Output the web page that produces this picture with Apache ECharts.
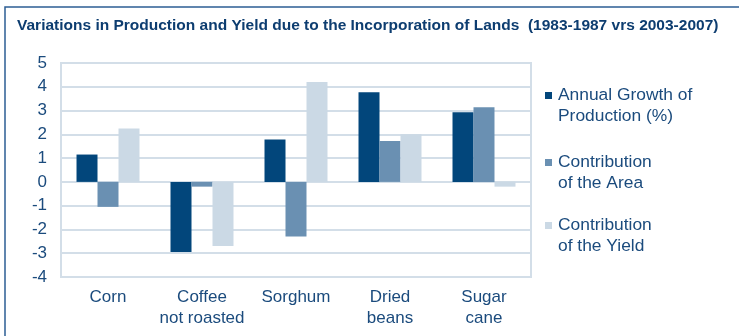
<!DOCTYPE html>
<html>
<head>
<meta charset="utf-8">
<script src="https://cdn.jsdelivr.net/npm/echarts@6/dist/echarts.min.js"></script>
<style>
  html, body { margin: 0; padding: 0; background: #fff; }
  #chart { width: 739px; height: 336px; }
</style>
</head>
<body>
<div id="chart"></div>
<script>
// Crops and their production/yield variation (%)
const categories = ['Corn', 'Coffee\nnot roasted', 'Sorghum', 'Dried\nbeans', 'Sugar\ncane'];
const seriesNames = ['Annual Growth of\nProduction (%)', 'Contribution\nof the Area', 'Contribution\nof the Yield'];
const annualGrowth = [1.15, -2.95, 1.78, 3.77, 2.93];
const areaContribution = [-1.05, -0.2, -2.3, 1.72, 3.14];
const yieldContribution = [2.25, -2.7, 4.2, 2.0, -0.2];
const seriesValues = [annualGrowth, areaContribution, yieldContribution];
const colors = ['#02467b', '#6a90b2', '#cbd9e5'];
const titleText = 'Variations in Production and Yield due to the Incorporation of Lands  (1983-1987 vrs 2003-2007)';

const textColor = '#1b4b7d';
const gridColor = '#d3dee8';
const font = 'Liberation Sans, Arial, sans-serif';

const chart = echarts.init(document.getElementById('chart'));

// Legend drawn as graphic items: square marker beside the first line of a two-line label
const legendGraphics = seriesNames.map((name, i) => {
  const y = [96, 163, 226][i];
  return {
    type: 'group',
    left: 545,
    top: y - 11,
    children: [
      { type: 'rect', shape: { x: 0, y: 7, width: 7, height: 7 }, style: { fill: colors[i] } },
      {
        type: 'text', x: 13, y: 0,
        style: { text: name, fill: textColor, font: '17.4px ' + font, lineHeight: 21, textVerticalAlign: 'top' }
      }
    ]
  };
});

const option = {
  animation: false,
  title: {
    text: titleText,
    left: 12,
    top: 13,
    textStyle: { color: '#0d3d70', fontSize: 15.5, fontWeight: 'bold', fontFamily: font }
  },
  grid: {
    left: 61, right: 208, top: 63, bottom: 59,
    show: true, borderColor: gridColor, borderWidth: 2, backgroundColor: 'transparent'
  },
  xAxis: {
    type: 'category',
    data: categories,
    axisLine: { show: false },
    axisTick: { show: false },
    axisLabel: { color: textColor, fontSize: 17, fontFamily: font, lineHeight: 21, margin: 10, interval: 0 }
  },
  yAxis: {
    type: 'value',
    min: -4, max: 5, interval: 1,
    axisLine: { show: false },
    axisTick: { show: false },
    splitLine: { lineStyle: { color: gridColor, width: 2 } },
    axisLabel: { color: textColor, fontSize: 17, fontFamily: font, margin: 14 }
  },
  series: seriesValues.map((vals, i) => ({
    type: 'bar',
    name: seriesNames[i],
    data: vals,
    barGap: '0%',
    barCategoryGap: '33%',
    itemStyle: { color: colors[i] }
  })),
  graphic: [
    { type: 'polyline', shape: { points: [[5, 336], [5, 7], [739, 7]] }, style: { stroke: '#2c5e94', lineWidth: 1.5, fill: null } },
    ...legendGraphics
  ]
};

chart.setOption(option);
</script>
</body>
</html>
